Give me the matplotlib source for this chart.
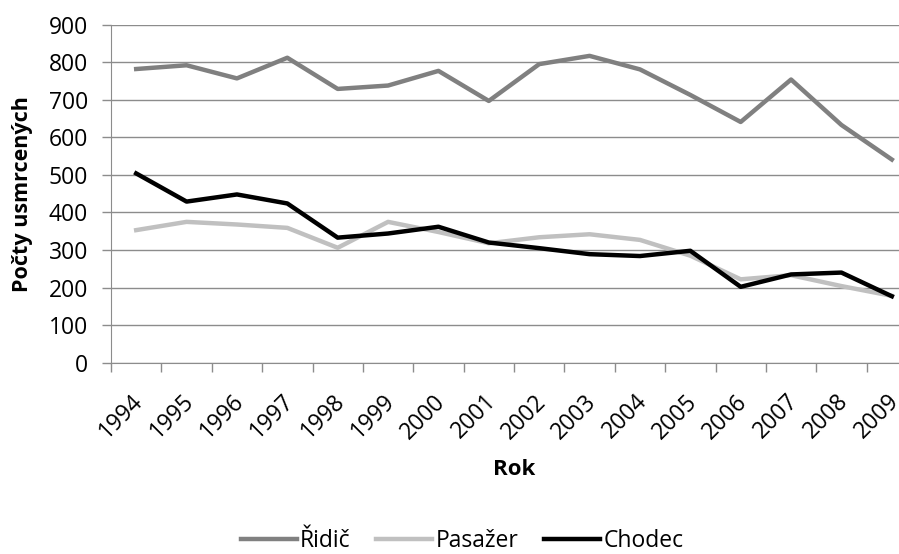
import matplotlib.pyplot as plt
import matplotlib.transforms as mtransforms
import numpy as np

# počty usmrcených podle kategorie účastníka
roky = [str(r) for r in range(1994, 2010)]
ridic = [782, 792, 757, 812, 729, 738, 777, 697, 795, 817, 781, 713, 641, 754, 633, 541]
pasazer = [353, 375, 368, 359, 306, 375, 348, 318, 334, 342, 327, 285, 222, 233, 204, 178]
chodec = [504, 429, 448, 424, 333, 344, 362, 320, 305, 289, 284, 298, 202, 235, 240, 177]

plt.rcParams['font.family'] = ['Open Sans', 'DejaVu Sans']
SEDA = '#8c8c8c'

fig = plt.figure(figsize=(8.99, 5.54), dpi=100)
# plot area runs slightly past the right edge of the figure
ax = fig.add_axes([111 / 899, 191.3 / 554, 806 / 899, 338 / 554])

x = np.arange(len(roky))
ax.plot(x, ridic, color='#808080', lw=3.2, label='Řidič')
ax.plot(x, pasazer, color='#c0c0c0', lw=3.2, label='Pasažer')
ax.plot(x, chodec, color='black', lw=3.2, label='Chodec')

ax.set_xlim(-0.5, len(roky) - 0.5)
ax.set_ylim(0, 900)
ax.set_yticks(range(0, 901, 100))
ax.yaxis.grid(True, color=SEDA, lw=1)
ax.set_axisbelow(True)

# tick marks between the categories
ax.set_xticks(np.arange(-0.5, len(roky), 1.0))
ax.set_xticklabels([])
ax.tick_params(axis='x', length=6.5, width=1, color=SEDA)
ax.tick_params(axis='y', length=6.5, width=1, color=SEDA, labelsize=16.5, pad=10)

# rotated year labels, ending just right of the category centre
trans = mtransforms.offset_copy(ax.get_xaxis_transform(), fig=fig,
                                x=-5, y=-27, units='dots')
for xi, rok in zip(x, roky):
    ax.text(xi, 0, rok, transform=trans, rotation=45, rotation_mode='anchor',
            ha='right', va='top', fontsize=16.5, clip_on=False)

for s in ['top', 'right']:
    ax.spines[s].set_visible(False)
for s in ['left', 'bottom']:
    ax.spines[s].set_color(SEDA)

ax.set_ylabel('Počty usmrcených', fontsize=15.5, fontweight='bold')
ax.yaxis.set_label_coords(-0.097, 0.5)
ax.set_xlabel('Rok', fontsize=16, fontweight='bold', va='center')
ax.xaxis.set_label_coords(0.5, -0.317)

fig.legend(loc='center', bbox_to_anchor=(462 / 899, 1 - 541 / 554), ncol=3,
           frameon=False, fontsize=16.5, handlelength=2.45, handletextpad=0.15,
           columnspacing=1.1, borderpad=0, borderaxespad=0)

fig.savefig('out.png', dpi=100)
